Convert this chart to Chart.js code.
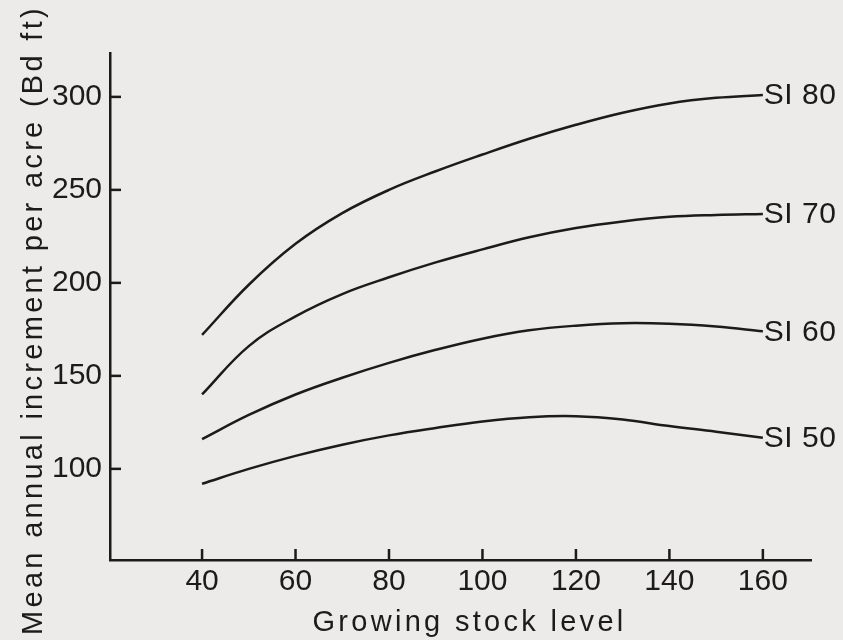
<!DOCTYPE html>
<html>
<head>
<meta charset="utf-8">
<title>Mean annual increment per acre</title>
<script src="https://cdn.jsdelivr.net/npm/chart.js@4.4.1/dist/chart.umd.min.js"></script>
<style>
  html, body { margin: 0; padding: 0; background: #ecebe9; }
  #wrap { width: 843px; height: 640px; }
</style>
</head>
<body>
<div id="wrap"><canvas id="chart" width="843" height="640"></canvas></div>
<script>
// growing stock levels the curves were read at
const stockLevels = [40, 50, 60, 70, 80, 90, 100, 110, 120, 130, 140, 150, 160];

// mean annual increment (Bd ft per acre) by site index
const si80 = [172, 199, 221, 237.5, 250, 260, 269, 277.5, 285, 291.5, 296.5, 299.5, 301];
const si70 = [140, 166, 182, 194, 203, 211, 218, 224.5, 229.5, 233, 235.5, 236.5, 237];
const si60 = [116, 129, 140, 149, 157, 164, 170, 174.5, 177, 178.3, 178, 176.5, 174];
const si50 = [92, 100, 107, 113, 118, 122, 125.5, 127.8, 128.3, 126.5, 123, 120, 116.7];

const seriesLabels = ['SI 80', 'SI 70', 'SI 60', 'SI 50'];
const xTicks = [40, 60, 80, 100, 120, 140, 160];
const yTicks = [100, 150, 200, 250, 300];

const xTitle = 'Growing stock level';
const yTitle = 'Mean annual increment per acre (Bd ft)';

const INK = '#1d1a1a';
const FONT = "'Liberation Sans', Arial, Helvetica, sans-serif";

function toPoints(values) {
  return stockLevels.map((x, i) => ({ x, y: values[i] }));
}

// inward tick marks, axis titles (tracked wide like the original) and curve-end labels
const labelPlugin = {
  id: 'labels',
  afterDraw(chart) {
    const { ctx, chartArea, scales } = chart;
    ctx.save();
    ctx.setLineDash([]);
    ctx.globalAlpha = 1;
    ctx.lineCap = 'butt';
    ctx.strokeStyle = INK;
    ctx.lineWidth = 2.5;
    xTicks.forEach(v => {
      const px = scales.x.getPixelForValue(v);
      ctx.beginPath();
      ctx.moveTo(px, chartArea.bottom);
      ctx.lineTo(px, chartArea.bottom - 11);
      ctx.stroke();
    });
    yTicks.forEach(v => {
      const py = scales.y.getPixelForValue(v);
      ctx.beginPath();
      ctx.moveTo(chartArea.left, py);
      ctx.lineTo(chartArea.left + 11, py);
      ctx.stroke();
    });

    ctx.fillStyle = INK;
    ctx.font = `29px ${FONT}`;
    ctx.letterSpacing = '3.3px';
    ctx.textAlign = 'center';
    ctx.textBaseline = 'alphabetic';
    ctx.fillText(xTitle, (chartArea.left + chartArea.right) / 2 + 9, 631);

    ctx.save();
    ctx.translate(42, 320);
    ctx.rotate(-Math.PI / 2);
    ctx.fillText(yTitle, 0, 0);
    ctx.restore();

    ctx.letterSpacing = '0.5px';
    ctx.font = `30px ${FONT}`;
    ctx.textAlign = 'left';
    ctx.textBaseline = 'middle';
    chart.data.datasets.forEach((ds, i) => {
      const pts = chart.getDatasetMeta(i).data;
      const end = pts[pts.length - 1];
      ctx.fillText(seriesLabels[i], end.x + 1, end.y + 1);
    });
    ctx.restore();
  }
};

const lineStyle = {
  borderColor: INK,
  borderWidth: 2.5,
  pointRadius: 0,
  fill: false,
  tension: 0.4
};

new Chart(document.getElementById('chart'), {
  type: 'line',
  data: {
    datasets: [
      { label: seriesLabels[0], data: toPoints(si80), ...lineStyle },
      { label: seriesLabels[1], data: toPoints(si70), ...lineStyle },
      { label: seriesLabels[2], data: toPoints(si60), ...lineStyle },
      { label: seriesLabels[3], data: toPoints(si50), ...lineStyle },
    ],
  },
  options: {
    responsive: false,
    animation: false,
    layout: { padding: { top: 53, right: 32, left: 0, bottom: 0 } },
    plugins: {
      legend: { display: false },
      tooltip: { enabled: false },
    },
    scales: {
      x: {
        type: 'linear',
        min: 20.3,
        max: 170.3,
        afterBuildTicks: (scale) => { scale.ticks = xTicks.map(v => ({ value: v })); },
        afterFit: (scale) => { scale.height = 80; },
        border: { display: true, color: INK, width: 2.5 },
        grid: { drawOnChartArea: false, drawTicks: true, tickLength: -10, color: 'rgba(0,0,0,0)' },
        ticks: { color: INK, font: { family: FONT, size: 30 }, padding: 14, maxRotation: 0 },
      },
      y: {
        type: 'linear',
        min: 51,
        max: 323.6,
        afterBuildTicks: (scale) => { scale.ticks = yTicks.map(v => ({ value: v })); },
        afterFit: (scale) => { scale.width = 110; },
        border: { display: true, color: INK, width: 2.5 },
        grid: { drawOnChartArea: false, drawTicks: true, tickLength: -10, color: 'rgba(0,0,0,0)' },
        ticks: { color: INK, font: { family: FONT, size: 30 }, padding: 18 },
      },
    },
  },
  plugins: [labelPlugin],
});
</script>
</body>
</html>
